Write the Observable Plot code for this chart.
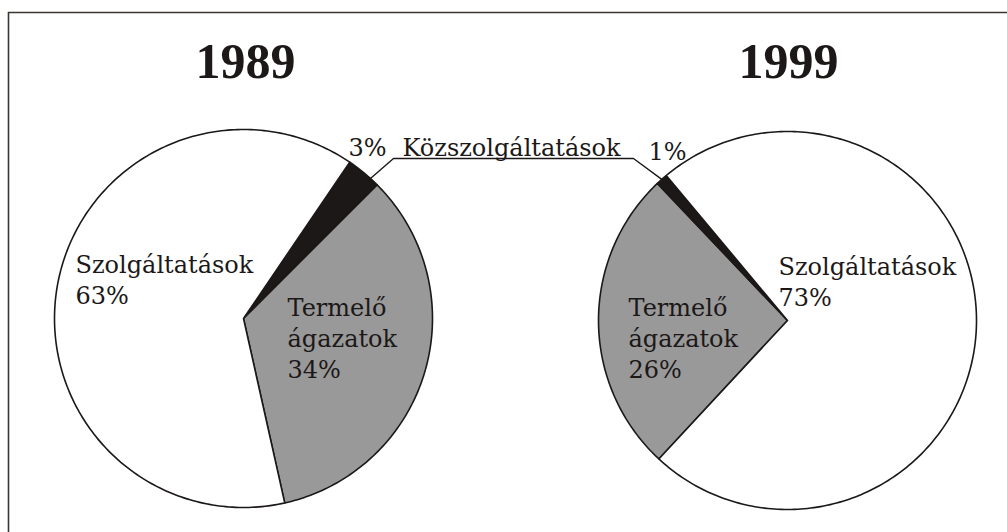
<!DOCTYPE html>
<html><head><meta charset="utf-8">
<script src="https://cdn.jsdelivr.net/npm/d3@7"></script>
<script src="https://cdn.jsdelivr.net/npm/@observablehq/plot@0.6"></script>
<style>body{margin:0;background:#fff;} svg{display:block}</style>
</head><body><div id="chart"></div>
<script>
// ---- data ----
const years = ["1989", "1999"];
const sectors = ["Közszolgáltatások", "Termelő\nágazatok", "Szolgáltatások"];
const shares1989 = [3, 34, 63];
const shares1999 = [1, 26, 73];
const sliceColors = ["#1c1818", "#999999", "#ffffff"];

// ---- layout ----
const W = 1007, H = 532;
const ink = "#1c1818";
const labelFont = "DejaVu Serif, Liberation Serif, serif";
const titleFont = "Liberation Serif, serif";
const pies = [
  {year: years[0], values: shares1989, cx: 243, cy: 318, r: 189, start: 34.2, order: [0, 1, 2], link: 42.2},
  {year: years[1], values: shares1999, cx: 787, cy: 320, r: 189, start: 222.9, order: [1, 0, 2], link: 318.3}
];
const rad = d => d * Math.PI / 180;
const pt = (p, a, r = p.r) => ({x: p.cx + r * Math.sin(rad(a)), y: p.cy - r * Math.cos(rad(a))});

const marks = [];
// slices
for (const p of pies) {
  const total = d3.sum(p.values);
  let a = p.start;
  for (const i of p.order) {
    const span = p.values[i] / total * 360;
    const pts = [{x: p.cx, y: p.cy}];
    const n = Math.max(2, Math.ceil(span));
    for (let k = 0; k <= n; k++) pts.push(pt(p, a + span * k / n));
    marks.push(Plot.line(pts, {x: "x", y: "y", curve: "linear-closed", fill: sliceColors[i], stroke: ink, strokeWidth: 1.6, strokeLinejoin: "round"}));
    a += span;
  }
}
// connector for the small slice
const L = pt(pies[0], pies[0].link), R = pt(pies[1], pies[1].link);
const linkY = 158;
marks.push(Plot.line([L, {x: 393, y: linkY}, {x: 633, y: linkY}, R], {x: "x", y: "y", stroke: ink, strokeWidth: 1.4}));

// frame (top & left)
marks.push(Plot.ruleX([8], {y1: 12, y2: H, stroke: "#3a3632", strokeWidth: 1.6}));
marks.push(Plot.ruleY([12], {x1: 8, x2: W, stroke: "#3a3632", strokeWidth: 1.6}));

// titles
const titles = pies.map((p, i) => ({text: years[i], x: [245, 788][i], y: 77}));
marks.push(Plot.text(titles, {x: "x", y: "y", text: "text", textAnchor: "middle", lineAnchor: "bottom",
  fontFamily: titleFont, fontWeight: "bold", fontSize: 50, fill: ink}));

// labels
const labels = [
  {text: `${shares1989[0]}%`, x: 386, y: 155, anchor: "end"},
  {text: sectors[0], x: 402, y: 155, anchor: "start"},
  {text: `${shares1999[0]}%`, x: 648, y: 159, anchor: "start"},
  {text: `${sectors[2]}\n${shares1989[2]}%`, x: 75, y: 303, anchor: "start"},
  {text: `${sectors[1]}\n${shares1989[1]}%`, x: 287, y: 377, anchor: "start"},
  {text: `${sectors[2]}\n${shares1999[2]}%`, x: 778, y: 305, anchor: "start"},
  {text: `${sectors[1]}\n${shares1999[1]}%`, x: 628, y: 377, anchor: "start"}
];
for (const anchor of ["start", "end"]) {
  marks.push(Plot.text(labels.filter(d => d.anchor === anchor), {x: "x", y: "y", text: "text", textAnchor: anchor,
    lineAnchor: "bottom", lineHeight: 1.29, fontFamily: labelFont, fontSize: 24, fill: ink}));
}

const chart = Plot.plot({
  width: W, height: H, margin: 0,
  x: {domain: [0, W], range: [0, W], axis: null},
  y: {domain: [0, H], range: [0, H], axis: null},
  style: {background: "#fff", overflow: "visible"},
  marks
});
document.getElementById("chart").append(chart);
</script>
</body></html>
